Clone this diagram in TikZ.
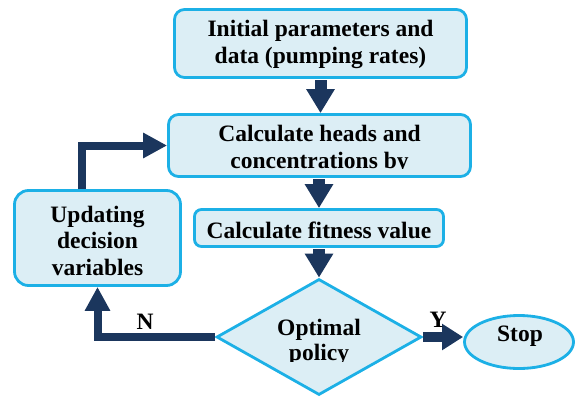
\documentclass[tikz,border=0pt]{standalone}
\usepackage{fontspec}
\setmainfont{Liberation Serif}
\usetikzlibrary{shapes.geometric,arrows.meta,calc}
\definecolor{boxfill}{HTML}{DCEEF5}
\definecolor{boxline}{HTML}{1CB0E6}
\definecolor{arr}{HTML}{1B365D}
\begin{document}
\begin{tikzpicture}[x=1pt,y=-1pt,
  txt/.style={font=\bfseries\fontsize{23.5}{27}\selectfont, align=center, text=black, inner sep=0pt},
  box/.style={draw=boxline, fill=boxfill, line width=2.8pt, rounded corners=10pt, inner sep=0pt},
  bigarrow/.style={draw=arr, line width=12pt, shorten <=1.5pt, -{Triangle[length=24pt,width=27pt]}},
  thinarrow/.style={draw=arr, line width=8pt, -{Triangle[length=24pt,width=24pt]}},
  yarrow/.style={draw=arr, line width=10pt, -{Triangle[length=21pt,width=25pt]}},
  ]
\useasboundingbox (0,0) rectangle (575,399);
% shapes
\node[box, minimum width=292pt, minimum height=68pt] (b1) at (320.5,43.5) {};
\node[box, minimum width=302pt, minimum height=62pt] (b2) at (319.5,145.5) {};
\node[box, rounded corners=7pt, minimum width=249pt, minimum height=37pt] (b3) at (319,228) {};
\node[box, rounded corners=14pt, minimum width=166pt, minimum height=95pt] (upd) at (97.5,238) {};
\node[draw=boxline, fill=boxfill, line width=2.8pt, diamond, inner sep=0pt, minimum width=205pt, minimum height=116pt] (dia) at (319,337) {};
\node[draw=boxline, fill=boxfill, line width=2.8pt, ellipse, inner sep=0pt, minimum width=109pt, minimum height=53pt] (stop) at (519,342) {};
% texts
\node[txt] (t1) at (320.5,44.5) {Initial parameters and\\data (pumping rates)};
\begin{scope}
\clip (150,100) rectangle (490,168);
\node[txt] (t2) at (319.5,149.5) {Calculate heads and\\concentrations by};
\end{scope}
\node[txt] (t3) at (319,230) {Calculate fitness value};
\node[txt, font=\bfseries\fontsize{23.5}{26.5}\selectfont] (t4) at (97.5,240.5) {Updating\\decision\\variables};
\begin{scope}
\clip (200,270) rectangle (440,361);
\node[txt, font=\bfseries\fontsize{23.5}{25}\selectfont] (t5) at (319,342) {Optimal\\policy};
\end{scope}
\node[txt] (t6) at (520,336.5) {Stop};
% connectors
\draw[bigarrow] (b1.south) -- (b1.south |- b2.north);
\draw[bigarrow] (b2.south -| b3.north) -- (b3.north);
\draw[bigarrow] (b3.south) -- (dia.north);
\draw[thinarrow] ([xshift=-15.5pt]upd.north) |- (b2.west);
\draw[thinarrow] (dia.west) -| (upd.south);
\draw[yarrow] (dia.east) -- (dia.east -| stop.west);
\node[txt] (n) at (145,322) {N};
\node[txt] (y) at (438,320) {Y};
\end{tikzpicture}
\end{document}
